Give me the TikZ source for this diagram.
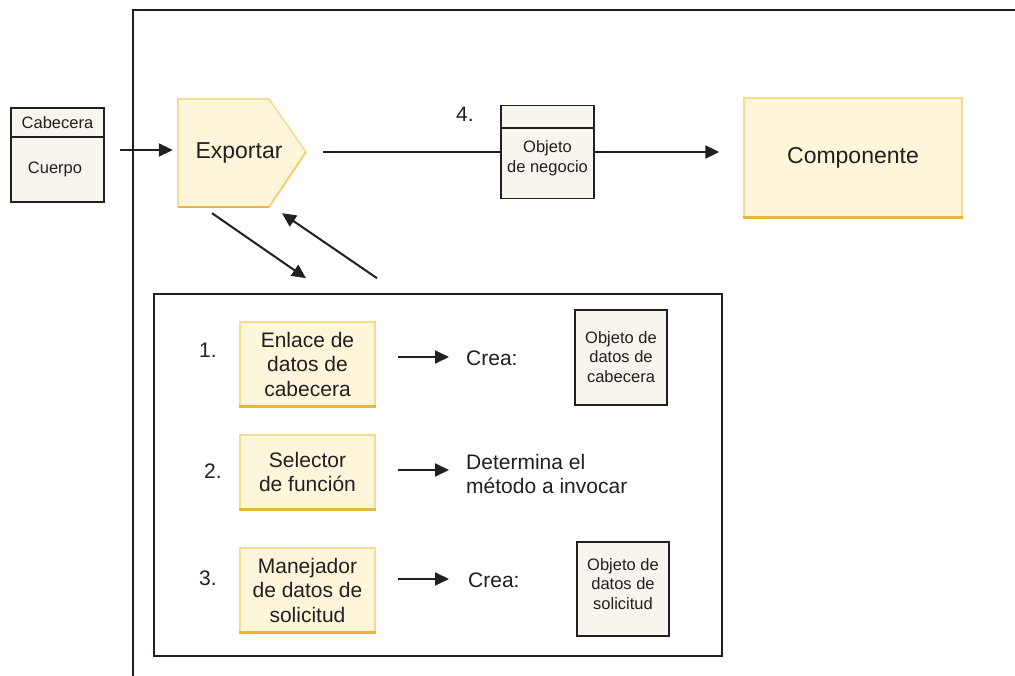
\documentclass[tikz,border=0pt]{standalone}
\usepackage{fontspec}
\setmainfont{Liberation Sans}
\usetikzlibrary{arrows.meta}
\definecolor{yfill}{HTML}{FEF6DB}
\definecolor{yedge}{HTML}{F5DC92}
\definecolor{ymid}{HTML}{F2CE6A}
\definecolor{ybot}{HTML}{EBB43A}
\definecolor{gfill}{HTML}{F7F5EE}
\definecolor{ink}{HTML}{231F20}
\begin{document}
\begin{tikzpicture}[x=1pt,y=-1pt,
  arr/.style={draw=ink, line width=2pt, -{Triangle[length=14pt,width=13pt]}},
  plain/.style={draw=ink, line width=2pt},
  ybox/.style={fill=yfill, draw=yedge, line width=1.4pt, align=center, text=ink,
    font=\fontsize{21}{24.5}\selectfont, inner sep=0pt},
  gbox/.style={fill=gfill, draw=ink, line width=1.8pt, inner sep=0pt},
  lbl/.style={text=ink, inner sep=0pt, align=left, font=\fontsize{21}{24.5}\selectfont},
  big/.style={text=ink, inner sep=0pt, font=\fontsize{23}{27}\selectfont},
  small/.style={text=ink, inner sep=0pt, align=center, font=\fontsize{16.5}{19.5}\selectfont},
  botline/.style={draw=ybot, line width=2.8pt}]
\useasboundingbox (0,0) rectangle (1015,676);
\fill[white] (0,0) rectangle (1015,676);

% outer frame
\draw[ink, line width=1.6pt] (133,676) -- (133,10) -- (1015,10);

% message
\node[gbox, minimum width=93pt, minimum height=94pt] (msg) at (57.5,155) {};
\draw[ink, line width=1.6pt] ([yshift=-30pt]msg.north west) -- ([yshift=-30pt]msg.north east);
\node[small] (cab) at (57.5,123) {Cabecera};
\node[small] (cue) at (55,169) {Cuerpo};

% Exportar
\node[minimum width=128pt, minimum height=108pt, inner sep=0pt] (exp) at (242,153) {};
\fill[yfill] (178,99) -- (269,99) -- (306,152) -- (269,207) -- (178,207) -- cycle;
\draw[yedge, line width=1.6pt] (178,207) -- (178,99) -- (269,99) -- (306,152);
\draw[ymid, line width=1.8pt] (306,152) -- (269,207);
\draw[botline] (269,207) -- (178,207);
\node[big] (exptext) at (239,153) {Exportar};

\draw[arr] ([xshift=15pt,yshift=5pt]msg.east) -- ([xshift=-5pt,yshift=5pt]msg.east -| exp.west);

% business object
\node[gbox, minimum width=93pt, minimum height=93pt] (bo) at (547.5,152) {};
\draw[ink, line width=1.6pt] ([yshift=-23.5pt]bo.north west) -- ([yshift=-23.5pt]bo.north east);
\node[small] (botext) at (547.5,158) {Objeto\\de negocio};
\node[lbl] (n4) at (465,114) {4.};
\draw[plain] ([xshift=17pt,yshift=1pt]exp.east) -- ([yshift=1pt]exp.east -| bo.west);

% Componente
\node[ybox, minimum width=218pt, minimum height=119pt, font=\fontsize{23}{27}\selectfont] (comp) at (853,157.5) {Componente};
\draw[botline] (comp.south west) -- (comp.south east);
\draw[arr, shorten >=24pt] (bo.east) -- (bo.east -| comp.west);

% inner box
\node[draw=ink, line width=1.6pt, minimum width=568pt, minimum height=362pt, inner sep=0pt] (inner) at (438,475) {};

\draw[arr] ([xshift=-30pt,yshift=-6pt]exp.south) -- ([xshift=-132pt,yshift=15pt]inner.north);
\draw[arr] ([xshift=-61pt,yshift=15pt]inner.north) -- ([xshift=40pt,yshift=-6pt]exp.south);

% step boxes
\node[ybox, minimum width=135pt, minimum height=84pt] (b1) at (307.5,364) {Enlace de\\datos de\\cabecera};
\draw[botline] (b1.south west) -- (b1.south east);
\node[ybox, minimum width=135pt, minimum height=74pt] (b2) at (307.5,472) {Selector\\de función};
\draw[botline] (b2.south west) -- (b2.south east);
\node[ybox, minimum width=135pt, minimum height=84pt] (b3) at (307.5,590) {Manejador\\de datos de\\solicitud};
\draw[botline] (b3.south west) -- (b3.south east);

\node[lbl] (n1) at (208,350) {1.};
\node[lbl] (n2) at (213,471) {2.};
\node[lbl] (n3) at (208,578) {3.};

\node[lbl, anchor=west] (crea1) at (466,358) {Crea:};
\node[lbl, anchor=west] (det) at (466,474) {Determina el\\método a invocar};
\node[lbl, anchor=west] (crea3) at (468,580) {Crea:};

\draw[arr, shorten >=17pt] ([xshift=22pt,yshift=7pt]b1.east) -- ([yshift=7pt]b1.east -| crea1.west);
\draw[arr, shorten >=17pt] ([xshift=22pt,yshift=2pt]b2.east) -- ([yshift=2pt]b2.east -| det.west);
\draw[arr, shorten >=19pt] ([xshift=22pt,yshift=11pt]b3.east) -- ([yshift=11pt]b3.east -| crea3.west);

% data objects
\node[gbox, minimum width=92pt, minimum height=95pt] (od1) at (621,357.5) {};
\node[small] (od1t) at (621,357) {Objeto de\\datos de\\cabecera};
\node[gbox, minimum width=92pt, minimum height=94pt] (od2) at (623,589) {};
\node[small] (od2t) at (623,584) {Objeto de\\datos de\\solicitud};
\end{tikzpicture}
\end{document}
